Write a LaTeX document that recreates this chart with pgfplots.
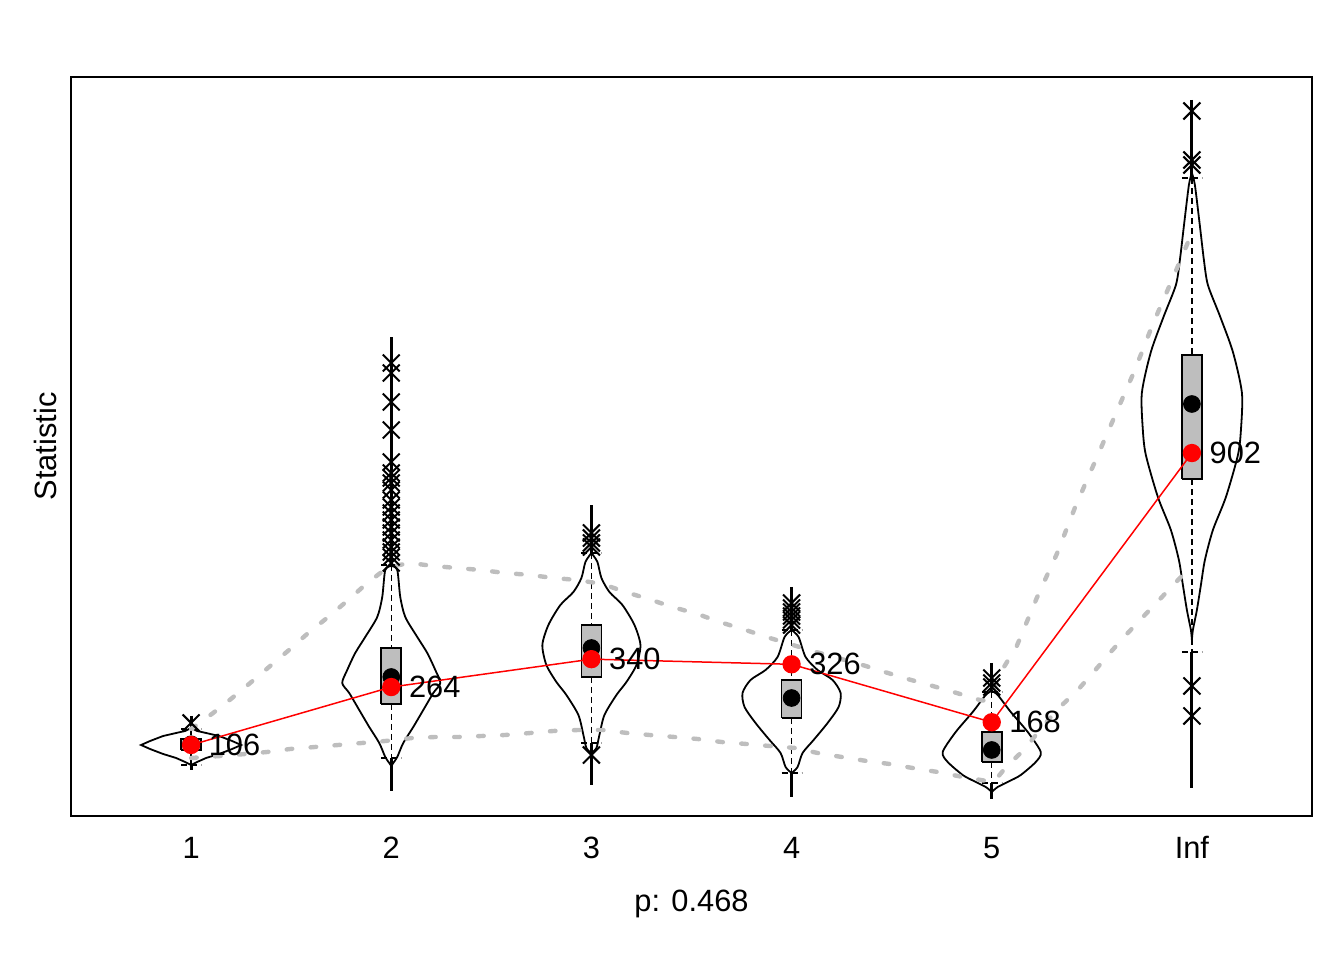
\documentclass[border=0pt]{standalone}
\usepackage{pgfplots}
\pgfplotsset{compat=1.18}
\usepackage{pgfplotstable}
\usepackage{fontspec}
\setmainfont{Liberation Sans}
\definecolor{bgray}{RGB}{190,190,190}
\definecolor{rred}{RGB}{255,0,0}

% violin half-widths (w, in x units) against the statistic (y)
\pgfplotstableread{
y w
152.4 0
144.2 0.03
138.7 0.075
130.5 0.14
116.9 0.205
106.0 0.25
95.1 0.205
81.5 0.14
70.6 0.075
59.7 0.03
51.5 0
}\violA
\pgfplotstableread{
y w
594.0 0
583.1 0.03
509.5 0.045
455.0 0.07
400.4 0.13
356.8 0.18
310.5 0.22
275.0 0.245
247.8 0.21
201.4 0.16
155.1 0.11
111.5 0.06
73.3 0.03
56.9 0.01
48.8 0
}\violB
\pgfplotstableread{
y w
629.5 0
604.9 0.03
561.3 0.05
523.1 0.09
487.7 0.155
433.1 0.215
378.6 0.245
324.1 0.225
277.8 0.175
242.3 0.125
187.8 0.065
133.3 0.04
97.8 0.025
84.2 0
}\violC
\pgfplotstableread{
y w
419.5 0
400.4 0.035
345.9 0.07
310.5 0.13
283.2 0.205
247.8 0.245
209.6 0.235
166.0 0.18
119.6 0.11
84.2 0.055
46.0 0.03
29.7 0
}\violD
\pgfplotstableread{
y w
253.2 0
242.3 0.03
196.0 0.095
141.4 0.18
86.9 0.245
59.7 0.22
24.2 0.145
7.9 0.09
-8.5 0.03
-22.1 0
}\violE
\pgfplotstableread{
y w
1665.5 0
1632.7 0.015
1521.0 0.04
1428.3 0.06
1360.1 0.08
1275.6 0.14
1177.4 0.205
1065.7 0.25
964.8 0.245
896.6 0.23
782.1 0.17
692.2 0.105
610.4 0.065
542.2 0.045
474.1 0.025
419.5 0.005
392.3 0
}\violF

\pgfplotsset{
  viol/.style={black, line width=0.9pt, no markers, smooth, tension=0.45},
  violsharp/.style={black, line width=0.9pt, no markers},
  thick seg/.style={black, line width=1.5pt, no markers, unbounded coords=jump},
  whisk/.style={black, line width=0.75pt, no markers, dash pattern=on 3pt off 2pt, unbounded coords=jump},
  gline/.style={bgray, line width=2.2pt, line cap=round, dash pattern=on 2.8pt off 9.2pt, no markers},
  boxst/.style={fill=bgray, draw=black, line width=0.8pt, no markers},
}

\begin{document}
\begin{tikzpicture}
\path[use as bounding box] (-35.5pt,-72pt) rectangle (636.5pt,408pt);
\begin{axis}[
  at={(0,0)}, anchor=south west,
  scale only axis, width=620.5pt, height=369.5pt,
  xmin=0.4, xmax=6.6, ymin=-87.6, ymax=1927.2,
  xtick={1,2,3,4,5,6}, xticklabels={1,2,3,4,5,Inf},
  ytick=\empty,
  major tick length=0pt,
  axis line style={line width=0.75pt},
  tick label style={font=\fontsize{15.4}{18}\selectfont},
  xticklabel style={anchor=base, yshift=-21pt},
  xlabel={p: 0.468},
  ylabel={Statistic},
  label style={font=\fontsize{15.4}{18}\selectfont},
  xlabel style={at={(axis description cs:0.5,-0.1286)}, anchor=base},
  ylabel style={at={(axis description cs:-0.0113,0.5)}, anchor=base},
  /pgf/number format/assume math mode=true,
]
% thick range segments
\addplot[thick seg] coordinates {(1,185.1) (1,149.6) (1,nan) (1,51.5) (1,37.8)};
\addplot[thick seg] coordinates {(2,1218.3) (2,596.7) (2,nan) (2,70.6) (2,-19.4)};
\addplot[thick seg] coordinates {(3,760.3) (3,629.5) (3,nan) (3,111.5) (3,-3.0)};
\addplot[thick seg] coordinates {(4,536.8) (4,419.5) (4,nan) (4,29.7) (4,-35.8)};
\addplot[thick seg] coordinates {(5,329.6) (5,250.5) (5,nan) (5,2.4) (5,-41.2)};
\addplot[thick seg] coordinates {(6,1864.5) (6,1651.8) (6,nan) (6,359.6) (6,-11.2)};
% whiskers and caps
\addplot[whisk] coordinates {(1,149.6) (1,122.4) (1,nan) (1,92.4) (1,51.5) (1,nan) (0.95,149.6) (1.05,149.6) (1,nan) (0.95,51.5) (1.05,51.5)};
\addplot[whisk] coordinates {(2,596.7) (2,370.5) (2,nan) (2,217.8) (2,70.6) (2,nan) (1.95,596.7) (2.05,596.7) (2,nan) (1.95,70.6) (2.05,70.6)};
\addplot[whisk] coordinates {(3,629.5) (3,433.1) (3,nan) (3,291.4) (3,111.5) (3,nan) (2.95,629.5) (3.05,629.5) (3,nan) (2.95,111.5) (3.05,111.5)};
\addplot[whisk] coordinates {(4,419.5) (4,283.2) (4,nan) (4,179.6) (4,29.7) (4,nan) (3.95,419.5) (4.05,419.5) (4,nan) (3.95,29.7) (4.05,29.7)};
\addplot[whisk] coordinates {(5,250.5) (5,141.4) (5,nan) (5,59.7) (5,2.4) (5,nan) (4.95,250.5) (5.05,250.5) (5,nan) (4.95,2.4) (5.05,2.4)};
\addplot[whisk] coordinates {(6,1651.8) (6,1169.3) (6,nan) (6,831.2) (6,359.6) (6,nan) (5.95,1651.8) (6.05,1651.8) (6,nan) (5.95,359.6) (6.05,359.6)};
% violins
\addplot[violsharp] table[x expr={1-\thisrow{w}}, y=y] {\violA};
\addplot[violsharp] table[x expr={1+\thisrow{w}}, y=y] {\violA};
\addplot[viol] table[x expr={2-\thisrow{w}}, y=y] {\violB};
\addplot[viol] table[x expr={2+\thisrow{w}}, y=y] {\violB};
\addplot[viol] table[x expr={3-\thisrow{w}}, y=y] {\violC};
\addplot[viol] table[x expr={3+\thisrow{w}}, y=y] {\violC};
\addplot[viol] table[x expr={4-\thisrow{w}}, y=y] {\violD};
\addplot[viol] table[x expr={4+\thisrow{w}}, y=y] {\violD};
\addplot[viol] table[x expr={5-\thisrow{w}}, y=y] {\violE};
\addplot[viol] table[x expr={5+\thisrow{w}}, y=y] {\violE};
\addplot[viol] table[x expr={6-\thisrow{w}}, y=y] {\violF};
\addplot[viol] table[x expr={6+\thisrow{w}}, y=y] {\violF};
% boxes
\addplot[boxst] coordinates {(0.95,92.4) (1.05,92.4) (1.05,122.4) (0.95,122.4) (0.95,92.4)};
\addplot[boxst] coordinates {(1.95,217.8) (2.05,217.8) (2.05,370.5) (1.95,370.5) (1.95,217.8)};
\addplot[boxst] coordinates {(2.95,291.4) (3.05,291.4) (3.05,433.1) (2.95,433.1) (2.95,291.4)};
\addplot[boxst] coordinates {(3.95,179.6) (4.05,179.6) (4.05,283.2) (3.95,283.2) (3.95,179.6)};
\addplot[boxst] coordinates {(4.95,59.7) (5.05,59.7) (5.05,141.4) (4.95,141.4) (4.95,59.7)};
\addplot[boxst] coordinates {(5.95,831.2) (6.05,831.2) (6.05,1169.3) (5.95,1169.3) (5.95,831.2)};
% medians
\addplot[only marks, mark=*, mark size=4.2pt, black] coordinates {(1,108) (2,291.4) (3,370.5) (4,234.1) (5,92.4) (6,1035.7)};
% outliers
\addplot[only marks, mark=x, mark size=6pt, black, line width=1pt] coordinates {
(1,166.0)
(2,1147.5) (2,1120.2) (2,1041.1) (2,964.8) (2,877.5) (2,847.6) (2,833.9) (2,820.3) (2,801.2) (2,773.9)
(2,754.9) (2,738.5) (2,719.4) (2,700.3) (2,684.0) (2,664.9) (2,645.8) (2,632.2) (2,618.6) (2,602.2)
(3,684.0) (3,670.3) (3,656.8) (3,645.8) (3,78.7)
(4,493.1) (4,479.5) (4,468.6) (4,457.7) (4,446.8) (4,433.1)
(5,288.7) (5,275.0) (5,264.1)
(6,1834.5) (6,1700.9) (6,1687.3) (6,266.9) (6,185.1)
};
% grey dashed envelopes
\addplot[gline] coordinates {
(1.0,149.6) (1.11,193.2) (1.205,234.1) (1.295,275.0) (1.395,321.4) (1.495,367.7) (1.585,411.4)
(1.685,455.0) (1.785,501.3) (1.88,547.7) (1.985,591.3) (2.095,602.2) (2.21,594.0) (2.33,588.6)
(2.445,583.1) (2.57,574.9) (2.695,569.5) (2.81,561.3) (2.93,555.8) (3.055,544.9) (3.17,523.1)
(3.285,504.0) (3.405,482.2) (3.53,463.2) (3.64,441.3) (3.755,422.3) (3.875,400.4) (3.99,381.4)
(4.105,362.3) (4.23,343.2) (4.355,324.1) (4.465,305.0) (4.58,285.9) (4.705,266.9) (4.825,247.8)
(4.94,228.7) (4.975,226.0) (5.0,245.0) (5.055,313.2) (5.125,375.9) (5.225,506.8) (5.325,626.7)
(5.415,752.1) (5.515,877.5) (5.615,1003.0) (5.715,1128.4) (5.805,1253.8) (5.905,1379.2) (6.0,1501.9)
};
\addplot[gline] coordinates {
(1.0,70.6) (1.2,78.0) (1.38,86.9) (1.495,95.1) (1.62,100.6) (1.735,106.0) (1.855,111.5) (1.97,116.9)
(2.105,125.1) (2.22,127.8) (2.335,127.8) (2.45,130.5) (2.57,133.3) (2.695,138.7) (2.81,144.2)
(2.935,146.9) (3.055,146.9) (3.18,138.7) (3.29,133.3) (3.415,127.8) (3.53,122.4) (3.65,114.2)
(3.775,108.7) (3.89,103.3) (4.02,97.8) (4.13,84.2) (4.25,73.3) (4.375,62.4) (4.49,54.2) (4.605,43.3)
(4.73,32.4) (4.855,18.8) (4.975,7.9) (5.01,5.2) (5.076,48.8) (5.166,95.1) (5.24,146.9) (5.33,204.1)
(5.43,256.0) (5.505,302.3) (5.59,356.8) (5.675,408.6) (5.765,460.4) (5.855,512.2) (5.945,564.0) (6.0,599.5)
};
% statistic
\addplot[rred, line width=0.75pt, mark=*, mark size=4.2pt, mark options={fill=rred, draw=rred},
  nodes near coords, point meta=explicit symbolic,
  nodes near coords style={black, anchor=west, inner sep=0pt, xshift=8.5pt, font=\fontsize{15.4}{18}\selectfont}]
  coordinates {(1,106)[106] (2,264)[264] (3,340)[340] (4,326)[326] (5,168)[168] (6,902)[902]};
\end{axis}
\end{tikzpicture}
\end{document}
